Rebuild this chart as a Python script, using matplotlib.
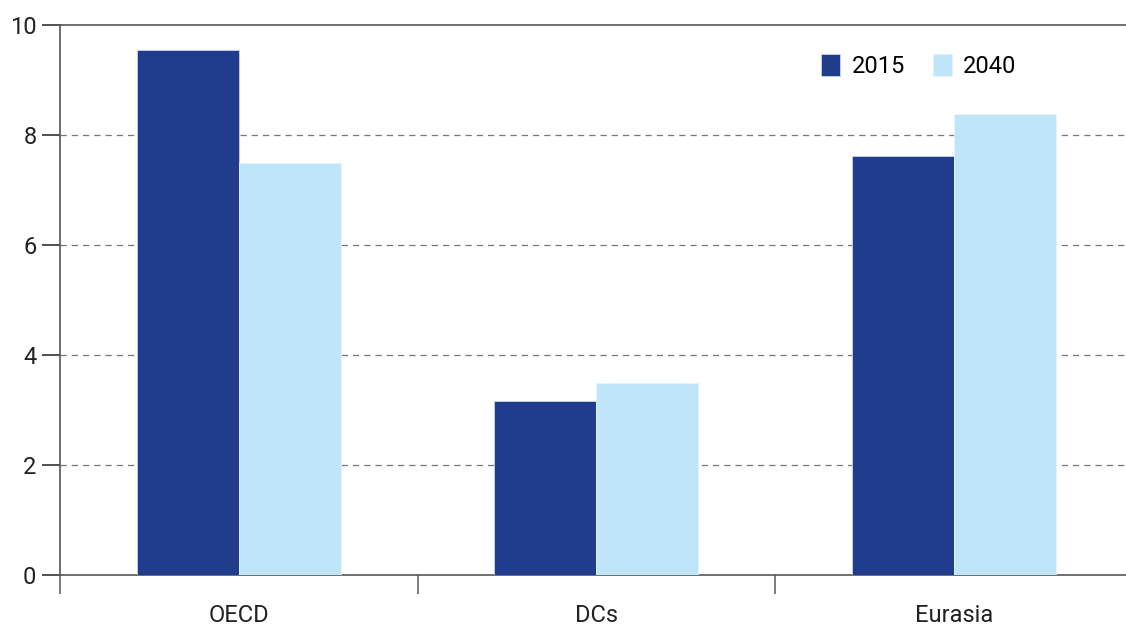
import numpy as np
import matplotlib.pyplot as plt

# Data
regions = ['OECD', 'DCs', 'Eurasia']
years = ['2015', '2040']
vals_2015 = [9.55, 3.16, 7.62]
vals_2040 = [7.49, 3.49, 8.38]
yticks = [0, 2, 4, 6, 8, 10]

plt.rcParams['font.family'] = ['Roboto', 'DejaVu Sans']

dark = '#1f3d8c'
light = '#bee5f8'

fig = plt.figure(figsize=(11.26, 6.28), dpi=100)
ax = fig.add_axes([60 / 1126, 53 / 628, 1072.5 / 1126, 550 / 628])

x = np.arange(len(regions))
w = 0.286
ax.bar(x - w / 2, vals_2015, w, color=dark, edgecolor='#c8d4ea', linewidth=0.6, label=years[0], zorder=3)
ax.bar(x + w / 2, vals_2040, w, color=light, edgecolor='#e6f4fc', linewidth=0.6, label=years[1], zorder=3)

ax.set_xlim(-0.5, 2.5)
ax.set_ylim(0, 10)
ax.set_yticks(yticks)
ax.set_yticklabels([str(t) for t in yticks], fontsize=17, color='#222222')
ax.set_xticks(x)
ax.set_xticklabels(regions, fontsize=17, color='#222222')
ax.tick_params(axis='x', which='major', length=0, pad=21)
ax.tick_params(axis='y', length=13, width=1.2, color='#333333', pad=4)

# category separators below the axis
ax.set_xticks([-0.5, 0.5, 1.5], minor=True)
ax.tick_params(axis='x', which='minor', length=14, width=1.2, color='#666666', direction='out')

for g in yticks[1:-1]:
    ax.axhline(g, color='#777777', linestyle=(0, (5, 4)), linewidth=0.9, zorder=1)

ax.spines['right'].set_visible(False)
for s in ['top', 'left', 'bottom']:
    ax.spines[s].set_color('#555555')
    ax.spines[s].set_linewidth(1.2)

ax.legend(loc='center', bbox_to_anchor=(0.801, 0.926), ncol=2, frameon=False,
          fontsize=17, handlelength=0.8, handleheight=1.1, handletextpad=0.5,
          columnspacing=1.15)

fig.savefig('out.png', dpi=100)
